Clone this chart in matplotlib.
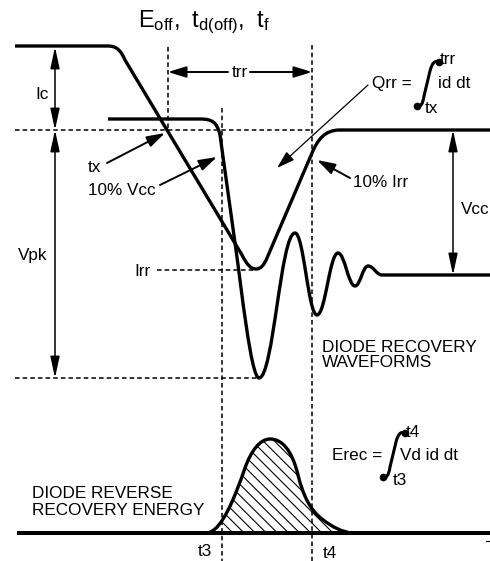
import matplotlib
matplotlib.use('Agg')
import matplotlib.pyplot as plt
from matplotlib.path import Path
from matplotlib.patches import PathPatch, Rectangle

plt.rcParams['font.family'] = 'Liberation Sans'
plt.rcParams['mathtext.fontset'] = 'custom'
plt.rcParams['mathtext.rm'] = 'Liberation Sans'
plt.rcParams['hatch.linewidth'] = 0.8

# Waveform outlines in picture coordinates (x to the right, y downwards)
# collector current ic
ic_start = (15, 46)
ic_segments = [
    ('L', (108, 46)),
    ('C', (117, 46), (121, 51), (125, 60)),
    ('L', (242, 255)),
    ('C', (247, 265), (251, 269), (256, 269)),
    ('C', (261, 269), (264, 265), (267, 258)),
    ('L', (312, 153)),
    ('C', (318, 139), (325, 130), (340, 130)),
    ('L', (490, 130)),
]

# diode voltage, falling edge then ringing
vd_start = (108, 119)
vd_segments = [
    ('L', (200, 119)),
    ('C', (212, 119), (217, 122), (220, 135)),
    ('L', (236, 250)),
    ('C', (241, 285), (251, 378), (259, 378)),
]
ringing_peaks = [(259, 378), (295, 233), (317, 315), (338, 253),
                 (355, 286), (368, 266), (382, 275)]
vd_end = (490, 275)

# reverse recovery energy pulse
erec_start = (210, 532)
erec_segments = [
    ('C', (222, 528), (234, 500), (245, 468)),
    ('C', (251, 451), (260, 439), (270, 439)),
    ('C', (282, 439), (292, 450), (298, 475)),
    ('C', (303, 495), (310, 510), (322, 519)),
    ('C', (332, 527), (342, 532), (352, 533)),
]
baseline_y = 533
t3_x, t4_x = 222, 312


def make_path(start, segs, close=None):
    verts, codes = [start], [Path.MOVETO]
    for s in segs:
        if s[0] == 'L':
            verts.append(s[1])
            codes.append(Path.LINETO)
        else:
            verts += list(s[1:])
            codes += [Path.CURVE4] * 3
    if close:
        for p in close:
            verts.append(p)
            codes.append(Path.LINETO)
    return Path(verts, codes)


for (x1, y1), (x2, y2) in zip(ringing_peaks[:-1], ringing_peaks[1:]):
    k = 0.4 * (x2 - x1)
    vd_segments.append(('C', (x1 + k, y1), (x2 - k, y2), (x2, y2)))
vd_segments.append(('L', vd_end))

fig = plt.figure(figsize=(4.9, 5.61), dpi=100)
ax = fig.add_axes([0, 0, 1, 1])
ax.set_xlim(0, 490)
ax.set_ylim(561, 0)
ax.axis('off')

DASH = (0, (3, 2))


def dashed(xs, ys):
    ax.plot(xs, ys, color='k', lw=1.1, ls=DASH)


def arrow(tail, tip, lw=1.1, both=False, hl=0.55, hw=0.17):
    style = ('<|-|>' if both else '-|>') + f',head_length={hl},head_width={hw}'
    ax.annotate('', xy=tip, xytext=tail,
                arrowprops=dict(arrowstyle=style, lw=lw, color='k',
                                shrinkA=0, shrinkB=0, mutation_scale=20))


def integral(x0, y0):
    # x0, y0 is the lower dot of the sign
    p = make_path((x0, y0), [
        ('C', (x0 + 3, y0 + 2), (x0 + 6, y0 - 2), (x0 + 7, y0 - 10)),
        ('L', (x0 + 13, y0 - 35)),
        ('C', (x0 + 15, y0 - 43), (x0 + 18, y0 - 46), (x0 + 22, y0 - 44)),
    ])
    ax.add_patch(PathPatch(p, fill=False, lw=2.2, capstyle='round'))
    ax.plot([x0, x0 + 22], [y0, y0 - 44], 'o', ms=4.5, color='k')


# dashed guides
dashed([15, 312], [130, 130])
dashed([168, 168], [47, 130])
dashed([t3_x, t3_x], [108, 561])
dashed([t4_x, t4_x], [45, 561])
dashed([157, 253], [270, 270])
dashed([15, 258], [378, 378])

# waveforms
ax.add_patch(PathPatch(make_path(ic_start, ic_segments), fill=False, lw=2.4,
                       joinstyle='round'))
ax.add_patch(PathPatch(make_path(vd_start, vd_segments), fill=False, lw=2.4,
                       joinstyle='round'))

# energy pulse with hatching between t3 and the end
hatch = PathPatch(make_path(erec_start, erec_segments,
                            close=[(352, baseline_y), (210, baseline_y), erec_start]),
                  facecolor='none', edgecolor='k', lw=0, hatch='\\\\\\')
ax.add_patch(hatch)
clip = Rectangle((t3_x, 400), 200, 140, transform=ax.transData)
hatch.set_clip_path(clip)
ax.add_patch(PathPatch(make_path(erec_start, erec_segments), fill=False, lw=2.4))
ax.plot([17, 490], [baseline_y, baseline_y], color='k', lw=2.9, solid_capstyle='butt')
ax.plot([486, 490], [541, 541], color='k', lw=0.8)

# dimension arrows
arrow((55, 47), (55, 130), both=True, hl=0.65, hw=0.14)
arrow((55, 130), (55, 378), both=True, hl=0.65, hw=0.14)
arrow((453, 130), (453, 275), both=True, hl=0.65, hw=0.14)
arrow((228, 72), (168, 72), lw=1.4)
arrow((250, 72), (312, 72), lw=1.4)

# pointer arrows
arrow((107, 163), (165, 133), lw=1.4)
arrow((160, 185), (217, 157), lw=1.4)
arrow((350, 178), (317, 160), lw=1.4)
arrow((368, 85), (277, 168), lw=0.9)

fs = 12.3
ax.text(204, 27, r'$\mathrm{E_{off},\ t_{d(off)},\ t_f}$', fontsize=17,
        ha='center', va='baseline')
ax.text(42, 94, 'Ic', fontsize=fs, ha='center', va='center')
ax.text(33, 255, 'Vpk', fontsize=fs, ha='center', va='center')
ax.text(240, 72, 'trr', fontsize=fs, ha='center', va='center')
ax.text(94, 167, 'tx', fontsize=fs, ha='center', va='center')
ax.text(88, 190, '10% Vcc', fontsize=fs, ha='left', va='center')
ax.text(151, 271, 'Irr', fontsize=fs, ha='right', va='center')
ax.text(353, 182, '10% Irr', fontsize=fs, ha='left', va='center')
ax.text(461, 209, 'Vcc', fontsize=fs, ha='left', va='center')
ax.text(322, 355, 'DIODE RECOVERY\nWAVEFORMS', fontsize=fs, ha='left',
        va='center', linespacing=1.05)
ax.text(32, 502, 'DIODE REVERSE\nRECOVERY ENERGY', fontsize=fs, ha='left',
        va='center', linespacing=1.15)
ax.text(212, 551, 't3', fontsize=fs, ha='right', va='center')
ax.text(323, 553, 't4', fontsize=fs, ha='left', va='center')

# Qrr integral
ax.text(372, 83, 'Qrr =', fontsize=fs, ha='left', va='center')
integral(417, 106)
ax.text(440, 59, 'trr', fontsize=fs, ha='left', va='center')
ax.text(438, 83, 'id dt', fontsize=fs, ha='left', va='center')
ax.text(425, 108, 'tx', fontsize=fs, ha='left', va='center')

# Erec integral
ax.text(332, 455, 'Erec =', fontsize=fs, ha='left', va='center')
integral(383, 477)
ax.text(406, 432, 't4', fontsize=fs, ha='left', va='center')
ax.text(400, 455, 'Vd id dt', fontsize=fs, ha='left', va='center')
ax.text(393, 480, 't3', fontsize=fs, ha='left', va='center')

fig.savefig('out.png', dpi=100)
